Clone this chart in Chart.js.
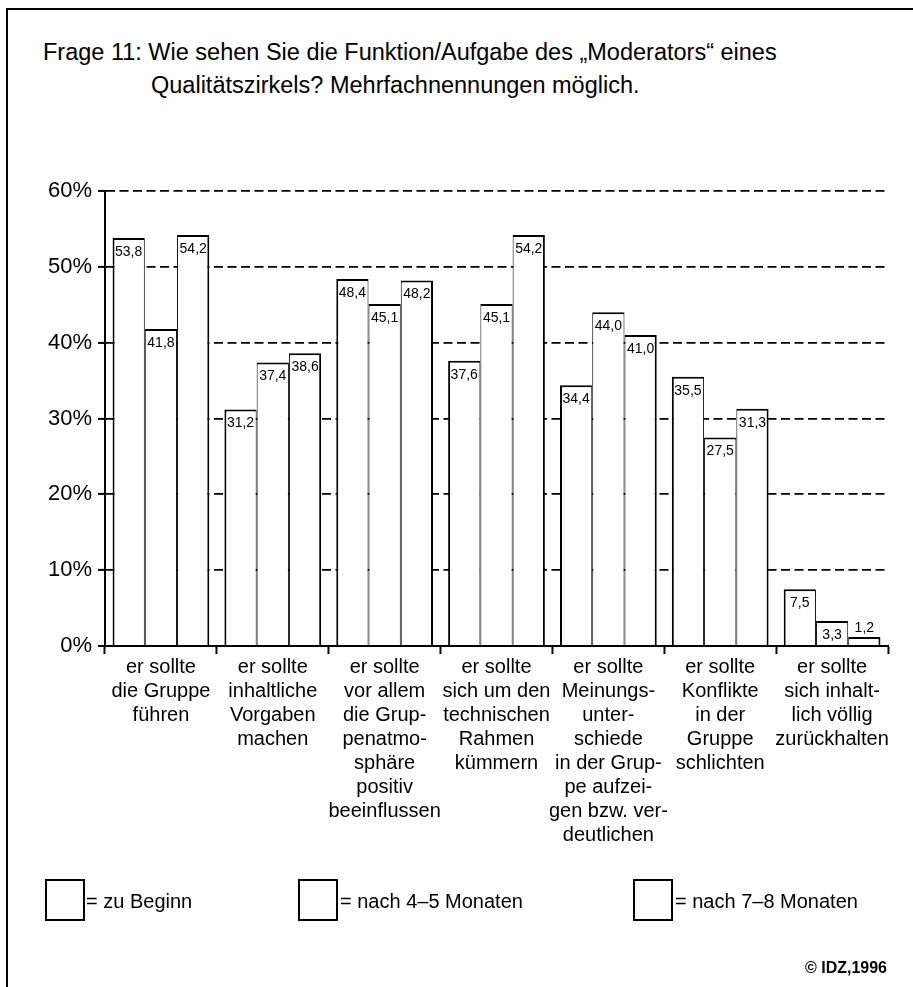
<!DOCTYPE html>
<html lang="de">
<head>
<meta charset="utf-8">
<title>Frage 11</title>
<script src="https://cdn.jsdelivr.net/npm/chart.js@4.4.1/dist/chart.umd.min.js"></script>
<style>
    body {
        margin: 0;
        background: #fff;
    }
    #page {
        position: relative;
        width: 913px;
        height: 987px;
        overflow: hidden;
        font-family: 'Liberation Sans', Arial, sans-serif;
        color: #000;
    }
    #frame {
        position: absolute;
        left: 6px;
        top: 8px;
        width: 1000px;
        height: 1000px;
        border-left: 2px solid #000;
        border-top: 2px solid #000;
    }
    #chart-wrap {
        position: absolute;
        left: 0;
        top: 0;
        width: 913px;
        height: 987px;
    }
    .line {
        position: absolute;
        white-space: nowrap;
        font-size: 23.5px;
        line-height: 23.5px;
    }
    .legend-box {
        position: absolute;
        top: 879px;
        width: 36px;
        height: 38px;
        border: 2px solid #000;
    }
    .legend-text {
        position: absolute;
        top: 891px;
        font-size: 20px;
        line-height: 20px;
        white-space: nowrap;
    }
    #copyright {
        position: absolute;
        right: 26px;
        top: 960px;
        font-size: 16px;
        line-height: 16px;
        font-weight: bold;
    }
</style>
</head>
<body>
<div id="page">
    <div id="frame"></div>
    <div class="line" style="left: 43px; top: 41px;">Frage 11: Wie sehen Sie die Funktion/Aufgabe des „Moderators“ eines</div>
    <div class="line" style="left: 151px; top: 74px;">Qualitätszirkels? Mehrfachnennungen möglich.</div>
    <div id="chart-wrap"><canvas id="chart"></canvas></div>
    <div class="legend-box" style="left: 45px;"></div>
    <div class="legend-text" style="left: 86px;">= zu Beginn</div>
    <div class="legend-box" style="left: 298px;"></div>
    <div class="legend-text" style="left: 340px;">= nach 4–5 Monaten</div>
    <div class="legend-box" style="left: 633px;"></div>
    <div class="legend-text" style="left: 675px;">= nach 7–8 Monaten</div>
    <div id="copyright">© IDZ,1996</div>
</div>
<script>
const categories = [
    ['er sollte', 'die Gruppe', 'führen'],
    ['er sollte', 'inhaltliche', 'Vorgaben', 'machen'],
    ['er sollte', 'vor allem', 'die Grup-', 'penatmo-', 'sphäre', 'positiv', 'beeinflussen'],
    ['er sollte', 'sich um den', 'technischen', 'Rahmen', 'kümmern'],
    ['er sollte', 'Meinungs-', 'unter-', 'schiede', 'in der Grup-', 'pe aufzei-', 'gen bzw. ver-', 'deutlichen'],
    ['er sollte', 'Konflikte', 'in der', 'Gruppe', 'schlichten'],
    ['er sollte', 'sich inhalt-', 'lich völlig', 'zurückhalten'],
];
const seriesNames = ['zu Beginn', 'nach 4–5 Monaten', 'nach 7–8 Monaten'];
const zuBeginn = [53.8, 31.2, 48.4, 37.6, 34.4, 35.5, 7.5];
const nach45Monaten = [41.8, 37.4, 45.1, 45.1, 44.0, 27.5, 3.3];
const nach78Monaten = [54.2, 38.6, 48.2, 54.2, 41.0, 31.3, 1.2];
const yTicks = [0, 10, 20, 30, 40, 50, 60];

const fontFamily = "'Liberation Sans', Arial, sans-serif";

// border widths so that neighbouring bars share one 2px line
const borders = [
    {top: 2, left: 2, right: 1, bottom: 0},
    {top: 2, left: 1, right: 1, bottom: 0},
    {top: 2, left: 1, right: 2, bottom: 0},
];

function formatValue(value) {
    return value.toFixed(1).replace('.', ',');
}

const valueLabels = {
    id: 'valueLabels',
    afterDatasetsDraw(chart) {
        const ctx = chart.ctx;
        ctx.save();
        ctx.font = `14px ${fontFamily}`;
        ctx.fillStyle = '#000';
        ctx.textAlign = 'center';
        ctx.textBaseline = 'alphabetic';
        chart.data.datasets.forEach((dataset, di) => {
            chart.getDatasetMeta(di).data.forEach((bar, i) => {
                const height = bar.base - bar.y;
                const y = height < 20 ? bar.y - 5 : bar.y + 18;
                ctx.fillText(formatValue(dataset.data[i]), bar.x, y);
            });
        });
        ctx.restore();
    },
};

function buildChart() {
    const ctx = document.getElementById('chart').getContext('2d');
    new Chart(ctx, {
        type: 'bar',
        data: {
            labels: categories,
            datasets: [zuBeginn, nach45Monaten, nach78Monaten].map((values, i) => ({
                label: seriesNames[i],
                data: values,
                backgroundColor: '#fff',
                borderColor: '#000',
                borderWidth: borders[i],
                categoryPercentage: 0.865,
                barPercentage: 1,
            })),
        },
        options: {
            responsive: true,
            maintainAspectRatio: false,
            animation: false,
            layout: {
                padding: {top: 191, right: 25, bottom: 0, left: 0},
            },
            plugins: {
                legend: {display: false},
                tooltip: {enabled: false},
            },
            scales: {
                x: {
                    afterFit(scale) {
                        scale.height = 341;
                    },
                    grid: {
                        offset: true,
                        drawOnChartArea: false,
                        tickLength: 8,
                        tickWidth: 2,
                        tickColor: '#000',
                        color: '#000',
                    },
                    border: {color: '#000', width: 2, z: 1},
                    ticks: {
                        color: '#000',
                        font: {family: fontFamily, size: 20, lineHeight: '24px'},
                        padding: 1,
                        autoSkip: false,
                        maxRotation: 0,
                        minRotation: 0,
                    },
                },
                y: {
                    min: 0,
                    max: 60,
                    afterFit(scale) {
                        scale.width = 105;
                    },
                    afterBuildTicks(scale) {
                        scale.ticks = yTicks.map((value) => ({value}));
                    },
                    grid: {
                        color: '#000',
                        lineWidth: (c) => (c.tick && c.tick.value === 0 ? 0 : 1.8),
                        tickLength: 7,
                        tickWidth: 2,
                        tickColor: '#000',
                    },
                    border: {color: '#000', width: 2, dash: [9, 4.5], z: 1},
                    ticks: {
                        color: '#000',
                        padding: 6,
                        font: {family: fontFamily, size: 22},
                        callback(value) {
                            return value + '%';
                        },
                    },
                },
            },
        },
        plugins: [valueLabels],
    });
}

document.addEventListener('DOMContentLoaded', buildChart);
</script>
</body>
</html>
